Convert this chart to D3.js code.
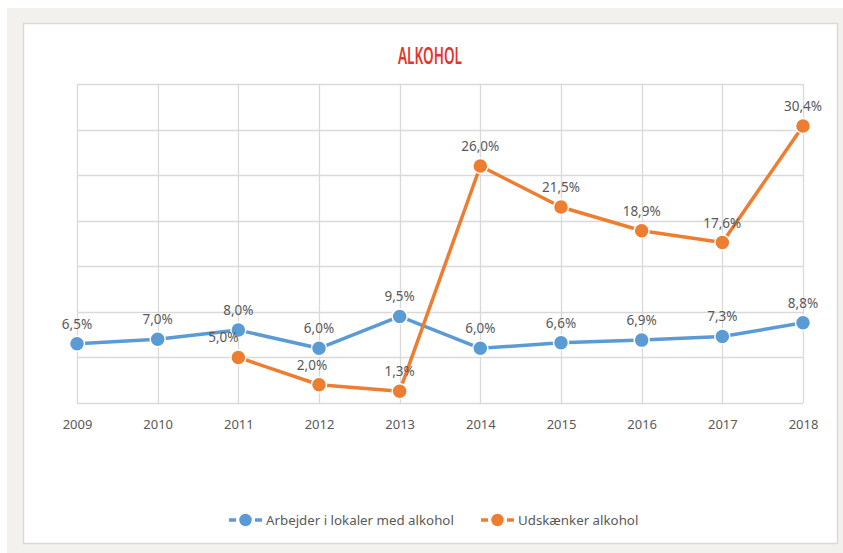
<!doctype html>
<html>
<head>
<meta charset="utf-8">
<script src="https://d3js.org/d3.v7.min.js"></script>
<style>
  body { margin: 0; background: #fff; }
  svg { display: block; }
  text { font-family: "Noto Sans", "Liberation Sans", sans-serif; }
</style>
</head>
<body>
<svg id="chart" width="843" height="553"></svg>
<script>
// data
var years = ["2009", "2010", "2011", "2012", "2013", "2014", "2015", "2016", "2017", "2018"];
var arbejder = [6.5, 7.0, 8.0, 6.0, 9.5, 6.0, 6.6, 6.9, 7.3, 8.8];
var udskaenker = [null, null, 5.0, 2.0, 1.3, 26.0, 21.5, 18.9, 17.6, 30.4];
var seriesNames = ["Arbejder i lokaler med alkohol", "Udskænker alkohol"];
var yTicks = [0, 5, 10, 15, 20, 25, 30, 35];

var svg = d3.select("#chart");
var fmt = function(v) { return v.toFixed(1).replace(".", ",") + "%"; };

// outer frame + card
svg.append("rect").attr("x", 7).attr("y", 8).attr("width", 836).attr("height", 545).attr("fill", "#f2f1ed");
svg.append("rect").attr("x", 23.5).attr("y", 23.5).attr("width", 814).attr("height", 520)
  .attr("fill", "#fff").attr("stroke", "#d9d9d9").attr("stroke-width", 1.5);

// title
svg.append("text").attr("x", 430).attr("y", 64).attr("text-anchor", "middle")
  .attr("font-size", 23).attr("fill", "#e5352b").attr("font-weight", 600)
  .attr("textLength", 64).attr("lengthAdjust", "spacingAndGlyphs")
  .text("ALKOHOL");

var x = d3.scalePoint().domain(years).range([77, 803]);
var y = d3.scaleLinear().domain([0, 35]).range([403, 84]);

var grid = svg.append("g");
grid.selectAll("line.h").data(yTicks).enter().append("line")
  .attr("x1", 77).attr("x2", 803)
  .attr("y1", function(d) { return Math.round(y(d)) + 0.5; })
  .attr("y2", function(d) { return Math.round(y(d)) + 0.5; })
  .attr("stroke", "#d9d9d9").attr("stroke-width", 1.3);
grid.selectAll("line.v").data(years).enter().append("line")
  .attr("x1", function(d) { return Math.round(x(d)) + 0.5; })
  .attr("x2", function(d) { return Math.round(x(d)) + 0.5; })
  .attr("y1", y(35)).attr("y2", y(0))
  .attr("stroke", "#d9d9d9").attr("stroke-width", 1.3);

// x axis labels
var xAxis = d3.axisBottom(x).tickSize(0).tickPadding(17);
var gx = svg.append("g").attr("transform", "translate(0," + y(0) + ")").call(xAxis);
gx.select(".domain").remove();
gx.selectAll("text").attr("font-size", 13).attr("fill", "#595959")
  .attr("font-family", "'Noto Sans', sans-serif");

function drawSeries(values, color, labelDx) {
  var pts = years.map(function(yr, i) { return { year: yr, v: values[i], i: i }; })
    .filter(function(d) { return d.v !== null; });
  var line = d3.line().x(function(d) { return x(d.year); }).y(function(d) { return y(d.v); });
  svg.append("path").datum(pts).attr("d", line)
    .attr("fill", "none").attr("stroke", color).attr("stroke-width", 3.5)
    .attr("stroke-linejoin", "round");
  svg.append("g").selectAll("circle").data(pts).enter().append("circle")
    .attr("cx", function(d) { return x(d.year); })
    .attr("cy", function(d) { return y(d.v); })
    .attr("r", 7.5).attr("fill", color).attr("stroke", "#fff").attr("stroke-width", 1.5);
  svg.append("g").selectAll("text").data(pts).enter().append("text")
    .attr("x", function(d) { return x(d.year) + (labelDx[d.i] || 0); })
    .attr("y", function(d) { return y(d.v) - 15; })
    .attr("text-anchor", "middle").attr("font-size", 13.5).attr("fill", "#595959")
    .text(function(d) { return fmt(d.v); });
}

drawSeries(arbejder, "#5b9bd5", {});
drawSeries(udskaenker, "#ed7d31", { 2: -15, 3: -7 });

// legend
var legend = [
  { name: seriesNames[0], color: "#5b9bd5", x: 229 },
  { name: seriesNames[1], color: "#ed7d31", x: 481 }
];
var lg = svg.append("g").selectAll("g").data(legend).enter().append("g")
  .attr("transform", function(d) { return "translate(" + d.x + ",520)"; });
lg.append("line").attr("x1", 0).attr("x2", 33).attr("y1", 0).attr("y2", 0)
  .attr("stroke", function(d) { return d.color; }).attr("stroke-width", 3.5)
  .attr("stroke-dasharray", "7,19");
lg.append("circle").attr("cx", 16.5).attr("cy", 0).attr("r", 7)
  .attr("fill", function(d) { return d.color; }).attr("stroke", "#fff").attr("stroke-width", 1.5);
lg.append("text").attr("x", 37).attr("y", 4.5).attr("font-size", 13.3).attr("fill", "#595959")
  .text(function(d) { return d.name; });
</script>
</body>
</html>
